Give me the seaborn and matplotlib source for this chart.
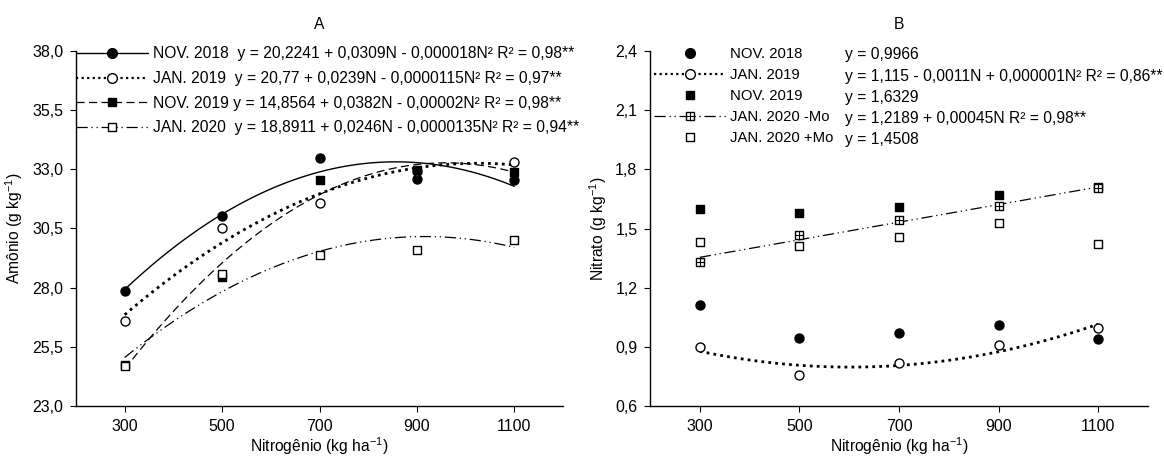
import numpy as np
import pandas as pd
import matplotlib
matplotlib.use("Agg")
import matplotlib.pyplot as plt
from matplotlib.lines import Line2D
from matplotlib.ticker import FuncFormatter
import seaborn as sns

# ---------------- data ----------------
nitrogenio = [300, 500, 700, 900, 1100]
amonio_ticks = [23.0, 25.5, 28.0, 30.5, 33.0, 35.5, 38.0]
nitrato_ticks = [0.6, 0.9, 1.2, 1.5, 1.8, 2.1, 2.4]

# Panel A - Amônio (g kg-1)
amonio_nov2018 = [27.87, 31.01, 33.48, 32.59, 32.53]
amonio_jan2019 = [26.60, 30.54, 31.57, 32.95, 33.31]
amonio_nov2019 = [24.75, 28.45, 32.55, 32.97, 32.89]
amonio_jan2020 = [24.70, 28.58, 29.38, 29.61, 30.00]

# Panel B - Nitrato (g kg-1)
nitrato_nov2018 = [1.111, 0.947, 0.969, 1.011, 0.942]
nitrato_jan2019 = [0.900, 0.758, 0.816, 0.910, 0.996]
nitrato_nov2019 = [1.597, 1.580, 1.607, 1.668, 1.712]
nitrato_jan2020_sem_mo = [1.332, 1.466, 1.545, 1.614, 1.704]
nitrato_jan2020_com_mo = [1.433, 1.410, 1.458, 1.527, 1.421]

labels_a = [
    "NOV. 2018  y = 20,2241 + 0,0309N - 0,000018N² R² = 0,98**",
    "JAN. 2019  y = 20,77 + 0,0239N - 0,0000115N² R² = 0,97**",
    "NOV. 2019 y = 14,8564 + 0,0382N - 0,00002N² R² = 0,98**",
    "JAN. 2020  y = 18,8911 + 0,0246N - 0,0000135N² R² = 0,94**",
]
labels_b = ["NOV. 2018", "JAN. 2019", "NOV. 2019", "JAN. 2020 -Mo", "JAN. 2020 +Mo"]
equations_b = [
    "y = 0,9966",
    "y = 1,115 - 0,0011N + 0,000001N² R² = 0,86**",
    "y = 1,6329",
    "y = 1,2189 + 0,00045N R² = 0,98**",
    "y = 1,4508",
]

# ---------------- style ----------------
sns.set_theme(style="ticks")
plt.rcParams["font.family"] = ["Liberation Sans", "DejaVu Sans"]
plt.rcParams["mathtext.fontset"] = "custom"
plt.rcParams["mathtext.rm"] = "Liberation Sans"
plt.rcParams["mathtext.it"] = "Liberation Sans:italic"
plt.rcParams["axes.edgecolor"] = "black"
plt.rcParams["xtick.color"] = "black"
plt.rcParams["ytick.color"] = "black"
plt.rcParams["text.color"] = "black"
plt.rcParams["axes.labelcolor"] = "black"

FS = 11.25
FS_B = 10.75
TFS = 11.5
LS_SOLID = "-"
LS_DOT = (0, (1, 1.5))
LS_DASH = (0, (6.5, 3.5))
LS_DASHDOTDOT = (0, (9, 3, 1, 3, 1, 3))

fig = plt.figure(figsize=(11.64, 4.61), dpi=100)
W, H = 1164, 461
axA = fig.add_axes([76 / W, (H - 406) / H, 487 / W, 355 / H])
axB = fig.add_axes([650 / W, (H - 406) / H, 498 / W, 355 / H])


def draw_points(ax, y, marker, face, size, plus=False):
    df = pd.DataFrame({"N": nitrogenio, "v": y})
    sns.scatterplot(data=df, x="N", y="v", ax=ax, marker=marker, s=size,
                    color=face, edgecolor="black", linewidth=1.0, zorder=3,
                    legend=False)
    if plus:
        sns.scatterplot(data=df, x="N", y="v", ax=ax, marker="+", s=size * 0.9,
                        color="black", linewidth=0.8, zorder=4, legend=False)


def draw_fit(ax, y, order, ls, lw):
    df = pd.DataFrame({"N": nitrogenio, "v": y})
    sns.regplot(data=df, x="N", y="v", ax=ax, order=order, ci=None,
                scatter=False, truncate=True,
                line_kws=dict(color="black", linestyle=ls, linewidth=lw, zorder=2))


# ---------------- Panel A ----------------
draw_fit(axA, amonio_nov2018, 2, LS_SOLID, 1.0)
draw_fit(axA, amonio_jan2019, 2, LS_DOT, 2.0)
draw_fit(axA, amonio_nov2019, 2, LS_DASH, 0.9)
draw_fit(axA, amonio_jan2020, 2, LS_DASHDOTDOT, 0.9)
draw_points(axA, amonio_nov2018, "o", "black", 42)
draw_points(axA, amonio_jan2019, "o", "white", 42)
draw_points(axA, amonio_nov2019, "s", "black", 34)
draw_points(axA, amonio_jan2020, "s", "white", 34)

hA = [
    Line2D([], [], color="black", lw=1.0, ls=LS_SOLID, marker="o", markersize=7,
           markerfacecolor="black", markeredgecolor="black"),
    Line2D([], [], color="black", lw=1.6, ls=LS_DOT, marker="o", markersize=7,
           markerfacecolor="white", markeredgecolor="black"),
    Line2D([], [], color="black", lw=0.9, ls=LS_DASH, marker="s", markersize=6,
           markerfacecolor="black", markeredgecolor="black"),
    Line2D([], [], color="black", lw=0.9, ls=LS_DASHDOTDOT, marker="s", markersize=6,
           markerfacecolor="white", markeredgecolor="black"),
]
axA.legend(hA, labels_a, loc="upper left", bbox_to_anchor=(0.0, 1.013),
           frameon=False, borderpad=0, borderaxespad=0, handlelength=4.6,
           handletextpad=0.33, labelspacing=0.62, fontsize=FS)

axA.set_xlim(200, 1200)
axA.set_ylim(23, 38)
axA.set_yticks(amonio_ticks)
axA.set_xticks(nitrogenio)
axA.set_ylabel("Amônio (g kg$^{-1}$)", fontsize=FS)
axA.set_xlabel("Nitrogênio (kg ha$^{-1}$)", fontsize=FS, labelpad=1)
axA.set_title("A", fontsize=FS, pad=16)

# ---------------- Panel B ----------------
draw_fit(axB, nitrato_jan2019, 2, LS_DOT, 2.0)
draw_fit(axB, nitrato_jan2020_sem_mo, 1, LS_DASHDOTDOT, 0.9)
draw_points(axB, nitrato_nov2018, "o", "black", 42)
draw_points(axB, nitrato_jan2019, "o", "white", 42)
draw_points(axB, nitrato_nov2019, "s", "black", 34)
draw_points(axB, nitrato_jan2020_sem_mo, "s", "white", 34, plus=True)
draw_points(axB, nitrato_jan2020_com_mo, "s", "white", 34)

hB = [
    Line2D([], [], color="black", ls="none", marker="o", markersize=7,
           markerfacecolor="black", markeredgecolor="black"),
    Line2D([], [], color="black", lw=1.6, ls=LS_DOT, marker="o", markersize=7,
           markerfacecolor="white", markeredgecolor="black"),
    Line2D([], [], color="black", ls="none", marker="s", markersize=6,
           markerfacecolor="black", markeredgecolor="black"),
    (Line2D([], [], color="black", lw=0.9, ls=LS_DASHDOTDOT, marker="s", markersize=6,
            markerfacecolor="white", markeredgecolor="black"),
     Line2D([], [], color="black", ls="none", marker="+", markersize=6,
            markeredgewidth=0.8)),
    Line2D([], [], color="black", ls="none", marker="s", markersize=6,
           markerfacecolor="white", markeredgecolor="black"),
]
legB = axB.legend(hB, labels_b, loc="upper left", bbox_to_anchor=(4 / 498, 1.010),
                  frameon=False, borderpad=0, borderaxespad=0, handlelength=4.8,
                  handletextpad=0.28, labelspacing=0.46, fontsize=FS_B)
axB.add_artist(legB)
blank = [Line2D([], [], ls="none") for _ in equations_b]
axB.legend(blank, equations_b, loc="upper left", bbox_to_anchor=((845 - 650) / 498, 1.010),
           frameon=False, borderpad=0, borderaxespad=0, handlelength=0,
           handletextpad=0, labelspacing=0.40, fontsize=FS)

axB.set_xlim(200, 1200)
axB.set_ylim(0.6, 2.4)
axB.set_yticks(nitrato_ticks)
axB.set_xticks(nitrogenio)
axB.set_ylabel("Nitrato (g kg$^{-1}$)", fontsize=FS)
axB.set_xlabel("Nitrogênio (kg ha$^{-1}$)", fontsize=FS, labelpad=1)
axB.set_title("B", fontsize=FS, pad=16)

comma = FuncFormatter(lambda v, p: f"{v:.1f}".replace(".", ","))
for ax in (axA, axB):
    sns.despine(ax=ax)
    ax.yaxis.set_major_formatter(comma)
    ax.tick_params(direction="out", length=4, width=0.8, labelsize=TFS)
    ax.tick_params(axis="x", pad=5)
    ax.tick_params(axis="y", pad=5)
    for s in ("left", "bottom"):
        ax.spines[s].set_linewidth(1.0)
    ax.set_facecolor("white")

axA.yaxis.set_label_coords(-0.105, 0.5)
axB.yaxis.set_label_coords(-0.082, 0.5)

fig.savefig("out.png", dpi=100, facecolor="white")
